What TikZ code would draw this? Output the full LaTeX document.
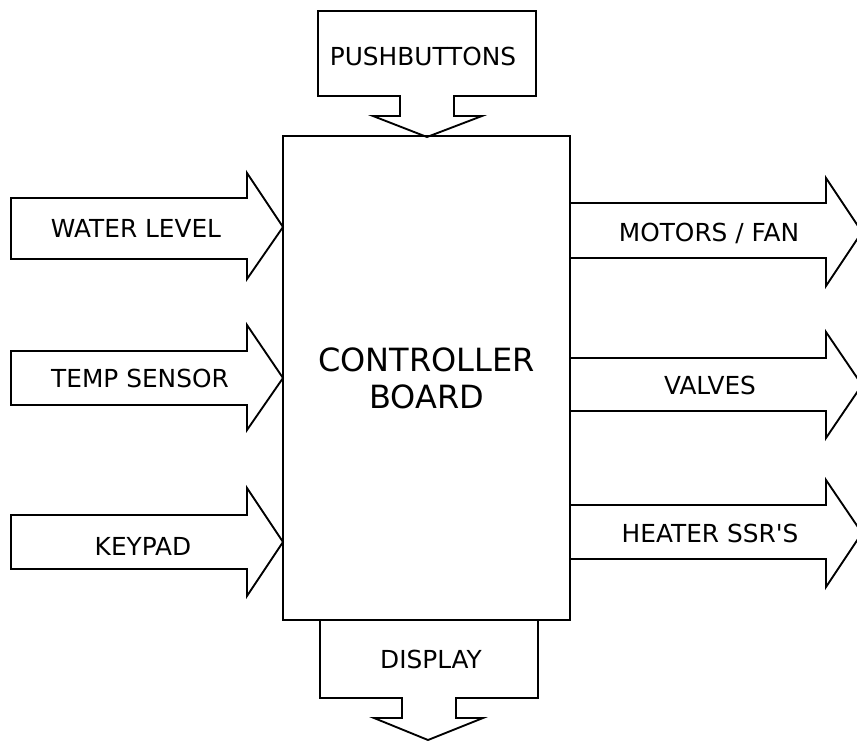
\documentclass[tikz,border=0pt]{standalone}
\usepackage{fontspec}
\setmainfont{DejaVu Sans}
\usetikzlibrary{positioning}

\tikzset{
  blk/.style={draw, line width=1.4pt, line join=miter},
  lbl/.style={anchor=base, inner sep=0pt, font=\fontsize{18.6}{22}\selectfont}
}

\begin{document}
\begin{tikzpicture}[x=0.75pt,y=-0.75pt]
		\useasboundingbox (0,0) rectangle (857,740);
		% controller board
		\node[blk, minimum width=215.25pt, minimum height=363pt, align=center,
		      font=\fontsize{24}{27.75}\selectfont] (board) at (426.5,378) {CONTROLLER\\BOARD};
		% inputs
		\draw[blk] (11,198) -- (247,198) -- (247,173) -- (283,227) -- (247,279) -- (247,259) -- (11,259) -- cycle;
		\draw[blk] (11,351) -- (247,351) -- (247,325) -- (283,378) -- (247,430) -- (247,405) -- (11,405) -- cycle;
		\draw[blk] (11,515) -- (247,515) -- (247,488) -- (283,542) -- (247,596) -- (247,569) -- (11,569) -- cycle;
		\node[lbl] (wlevel) at (136,237) {WATER LEVEL};
		\node[lbl] (tsensor) at (140,387) {TEMP SENSOR};
		\node[lbl] (keypad) at (143,555) {KEYPAD};
		% outputs
		\draw[blk] (570,203) -- (826,203) -- (826,178) -- (862,232) -- (826,286) -- (826,258) -- (570,258);
		\draw[blk] (570,358) -- (826,358) -- (826,332) -- (862,385) -- (826,438) -- (826,411) -- (570,411);
		\draw[blk] (570,505) -- (826,505) -- (826,480) -- (862,533) -- (826,587) -- (826,559) -- (570,559);
		\node[lbl] (motors) at (709,241) {MOTORS / FAN};
		\node[lbl] (valves) at (710,394) {VALVES};
		\node[lbl] (heater) at (710,542) {HEATER SSR\textquotesingle S};
		% pushbuttons and display
		\draw[blk] (318,11) -- (536,11) -- (536,96) -- (454,96) -- (454,116) -- (482,116) -- (427,137)
		  -- (373,116) -- (400,116) -- (400,96) -- (318,96) -- cycle;
		\draw[blk] (320,620) -- (320,698) -- (402,698) -- (402,718) -- (374,718) -- (428,740)
		  -- (483,718) -- (456,718) -- (456,698) -- (538,698) -- (538,620);
		\node[lbl] (pushb) at (423,65) {PUSHBUTTONS};
		\node[lbl] (display) at (431,668) {DISPLAY};
\end{tikzpicture}
\end{document}
